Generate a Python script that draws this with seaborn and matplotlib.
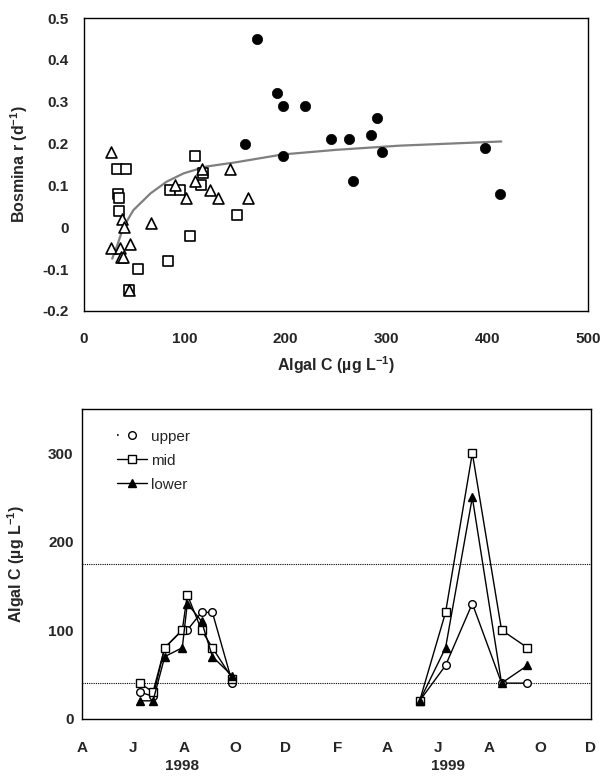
import matplotlib
matplotlib.use("Agg")
import matplotlib.pyplot as plt
from matplotlib.lines import Line2D
from matplotlib.ticker import FuncFormatter, MultipleLocator
import numpy as np
import pandas as pd
import seaborn as sns

# ---- Top panel: Bosmina growth rate vs algal carbon ----
circle_c = [172, 191, 197, 219, 160, 197, 245, 263, 291, 285, 296, 267, 398, 413]
circle_r = [0.45, 0.32, 0.29, 0.29, 0.20, 0.17, 0.21, 0.21, 0.26, 0.22, 0.18, 0.11, 0.19, 0.08]

square_c = [33, 42, 34, 35, 35, 110, 118, 116, 85, 95, 152, 105, 83, 54, 45]
square_r = [0.14, 0.14, 0.08, 0.07, 0.04, 0.17, 0.13, 0.10, 0.09, 0.09, 0.03, -0.02, -0.08, -0.10, -0.15]

triangle_c = [27, 38, 40, 27, 36, 46, 37, 39, 66, 45, 90, 101, 110, 117, 125, 133, 145, 163]
triangle_r = [0.18, 0.02, 0.0, -0.05, -0.05, -0.04, -0.07, -0.07, 0.01, -0.15,
              0.10, 0.07, 0.11, 0.14, 0.09, 0.07, 0.14, 0.07]

fit_c = [28, 33, 39, 49, 66, 82, 99, 121, 150, 197, 250, 313, 414]
fit_r = [-0.075, -0.043, 0.0, 0.041, 0.081, 0.109, 0.129, 0.145, 0.155, 0.174, 0.185, 0.195, 0.205]

# ---- Bottom panel: algal carbon time series by depth ----
dates_1998 = ["1998-06-09", "1998-06-25", "1998-07-09", "1998-07-30",
              "1998-08-05", "1998-08-22", "1998-09-04", "1998-09-28"]
upper_1998 = [30, 25, 80, 100, 100, 120, 120, 40]
mid_1998 = [40, 30, 80, 100, 140, 100, 80, 45]
lower_1998 = [20, 20, 70, 80, 130, 110, 70, 48]

dates_1999 = ["1999-05-10", "1999-06-10", "1999-07-12", "1999-08-16", "1999-09-16"]
upper_1999 = [20, 60, 130, 40, 40]
mid_1999 = [20, 120, 300, 100, 80]
lower_1999 = [20, 80, 250, 40, 60]

threshold_levels = [175, 40]
month_ticks = ["1998-04-01", "1998-06-01", "1998-08-01", "1998-10-01", "1998-12-01",
               "1999-02-01", "1999-04-01", "1999-06-01", "1999-08-01", "1999-10-01",
               "1999-12-01"]
month_labels = ["A", "J", "A", "O", "D", "F", "A", "J", "A", "O", "D"]
year_labels = ["1998", "1999"]

sns.set_theme(style="white")
plt.rcParams["font.family"] = ["Liberation Sans", "DejaVu Sans"]
plt.rcParams["axes.unicode_minus"] = False
plt.rcParams["mathtext.fontset"] = "custom"
plt.rcParams["mathtext.rm"] = "Liberation Sans"
plt.rcParams["mathtext.bf"] = "Liberation Sans:bold"

W, H = 602, 779
fig = plt.figure(figsize=(W / 100, H / 100), dpi=100)
fig.patch.set_facecolor("white")

ax1 = fig.add_axes([84 / W, 1 - 311 / H, (588 - 84) / W, (311 - 18) / H])
ax2 = fig.add_axes([82 / W, 1 - 718.5 / H, (591 - 82) / W, (718.5 - 409) / H])

for ax in (ax1, ax2):
    ax.set_facecolor("white")
    for sp in ax.spines.values():
        sp.set_color("black")
        sp.set_linewidth(1.0)
        sp.set_visible(True)

# --- top panel ---
sns.lineplot(x=fit_c, y=fit_r, ax=ax1, color="#7f7f7f", linewidth=1.6, sort=False, zorder=1)
sns.scatterplot(x=square_c, y=square_r, ax=ax1, marker="s", s=52, facecolor="white",
                edgecolor="black", linewidth=1.2, zorder=3)
sns.scatterplot(x=triangle_c, y=triangle_r, ax=ax1, marker="^", s=62, facecolor="white",
                edgecolor="black", linewidth=1.2, zorder=3)
sns.scatterplot(x=circle_c, y=circle_r, ax=ax1, marker="o", s=55, color="black",
                edgecolor="black", linewidth=0.5, zorder=4)

ax1.set_xlim(0, 500)
ax1.set_ylim(-0.2, 0.5)
ax1.xaxis.set_major_locator(MultipleLocator(100))
ax1.yaxis.set_major_locator(MultipleLocator(0.1))
ax1.yaxis.set_major_formatter(FuncFormatter(lambda v, p: "0" if abs(v) < 1e-9 else f"{v:.1f}"))
ax1.tick_params(axis="x", direction="out", length=4, width=0.8, pad=11, labelsize=11)
ax1.tick_params(axis="y", direction="out", length=4, width=0.8, pad=7, labelsize=11)
for lab in ax1.get_xticklabels() + ax1.get_yticklabels():
    lab.set_fontweight("bold")
ax1.set_xlabel(r"Algal C (µg L$^{\mathbf{-1}}$)", fontsize=11.5, fontweight="bold", labelpad=6)
ax1.set_ylabel(r"Bosmina r (d$^{\mathbf{-1}}$)", fontsize=11.5, fontweight="bold")
ax1.yaxis.set_label_coords(-0.107, 0.5)

# --- bottom panel ---
for lvl in threshold_levels:
    ax2.axhline(lvl, color="black", linestyle=(0, (1, 1)), linewidth=0.8, zorder=1)

styles = {
    "upper": dict(marker="o", markerfacecolor="white", markersize=5.5),
    "mid": dict(marker="s", markerfacecolor="white", markersize=5.5),
    "lower": dict(marker="^", markerfacecolor="black", markersize=6),
}
series = {
    "upper": (upper_1998, upper_1999),
    "mid": (mid_1998, mid_1999),
    "lower": (lower_1998, lower_1999),
}
for name, (v98, v99) in series.items():
    for dts, vals in ((dates_1998, v98), (dates_1999, v99)):
        sns.lineplot(x=pd.to_datetime(dts), y=vals, ax=ax2, color="black", linewidth=1.0,
                     markeredgecolor="black", markeredgewidth=1.0, zorder=3, **styles[name])

ax2.set_xlim(pd.Timestamp("1998-04-01"), pd.Timestamp("1999-12-01"))
ax2.set_ylim(0, 350)
ax2.yaxis.set_major_locator(MultipleLocator(100))
ax2.set_xticks(pd.to_datetime(month_ticks))
ax2.set_xticklabels(month_labels)
ax2.tick_params(axis="x", direction="out", length=4, width=0.8, pad=12, labelsize=11)
ax2.tick_params(axis="y", direction="out", length=4, width=0.8, pad=2, labelsize=11)
for lab in ax2.get_xticklabels() + ax2.get_yticklabels():
    lab.set_fontweight("bold")
ax2.set_xlabel("")
ax2.set_ylabel(r"Algal C (µg L$^{\mathbf{-1}}$)", fontsize=11.5, fontweight="bold")
ax2.yaxis.set_label_coords(-0.108, 0.5)

for txt, xf in zip(year_labels, (0.197, 0.719)):
    ax2.text(xf, -0.155, txt, transform=ax2.transAxes, ha="center", va="center",
             fontsize=11, fontweight="bold")

handles = [
    Line2D([], [], color="black", linestyle=(0, (1, 30)), linewidth=1.2, marker="o",
           markerfacecolor="white", markeredgecolor="black", markersize=5.5),
    Line2D([], [], color="black", linewidth=1.0, marker="s", markerfacecolor="white",
           markeredgecolor="black", markersize=5.5),
    Line2D([], [], color="black", linewidth=1.0, marker="^", markerfacecolor="black",
           markeredgecolor="black", markersize=6),
]
ax2.legend(handles, ["upper", "mid", "lower"], loc="upper left",
           bbox_to_anchor=(0.05, 0.963), frameon=False, fontsize=11,
           handlelength=2.0, handletextpad=0.25, labelspacing=0.66, borderaxespad=0.2)

fig.savefig("out.png", dpi=100, facecolor="white")
